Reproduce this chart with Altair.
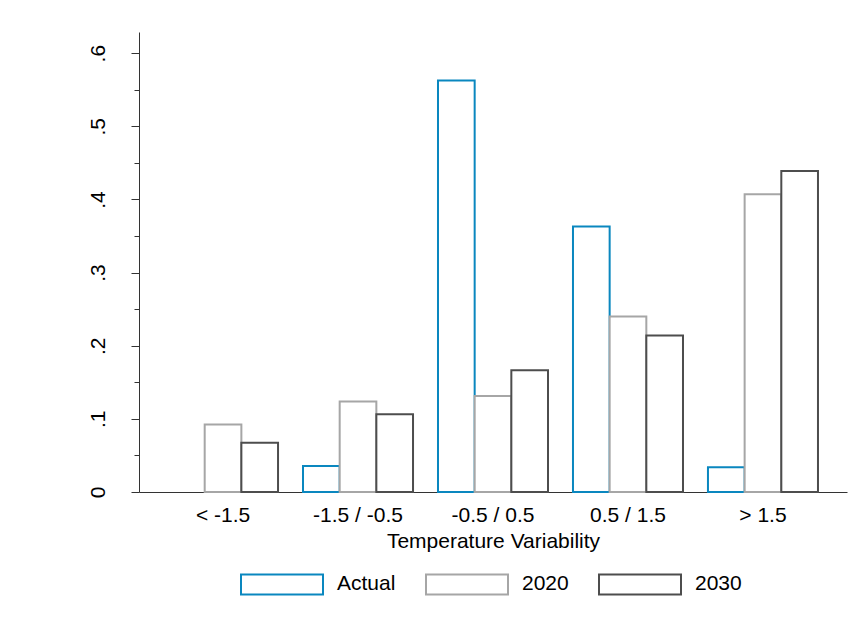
import altair as alt
import pandas as pd

CATEGORIES = ["< -1.5", "-1.5 / -0.5", "-0.5 / 0.5", "0.5 / 1.5", "> 1.5"]
SERIES = ["Actual", "2020", "2030"]
ACTUAL = [None, 0.0355, 0.5628, 0.3632, 0.0337]
Y2020 = [0.0923, 0.1237, 0.1313, 0.2400, 0.4073]
Y2030 = [0.0673, 0.1064, 0.1664, 0.2141, 0.4390]
COLORS = ["#0a87bf", "#a6a6a6", "#4d4d4d"]
Y_TICKS = [0, 0.05, 0.1, 0.15, 0.2, 0.25, 0.3, 0.35, 0.4, 0.45, 0.5, 0.55, 0.6]

rows = []
for s, vals in zip(SERIES, [ACTUAL, Y2020, Y2030]):
    for c, v in zip(CATEGORIES, vals):
        if v is not None:
            rows.append({"category": c, "series": s, "value": v})
df = pd.DataFrame(rows)

FONT = "Liberation Sans"
FS = 21
major_test = "round(datum.value * 100) % 10 == 0"

chart = alt.Chart(df).mark_bar(fill="white", strokeWidth=2).encode(
    x=alt.X(
        "category:N",
        sort=CATEGORIES,
        scale=alt.Scale(paddingInner=0.185, paddingOuter=0.215),
        axis=alt.Axis(
            title="Temperature Variability",
            ticks=False,
            labelAngle=0,
            labelPadding=12,
            labelFontSize=FS,
            labelFont=FONT,
            labelColor="#000000",
            titleFontSize=FS,
            titleFont=FONT,
            titleColor="#000000",
            titleFontWeight="normal",
            titlePadding=5,
            domainColor="#333333",
            domainWidth=1,
            grid=False,
        ),
    ),
    xOffset=alt.XOffset("series:N", sort=SERIES, scale=alt.Scale(paddingInner=0, paddingOuter=0)),
    y=alt.Y(
        "value:Q",
        scale=alt.Scale(domain=[0, 0.629], nice=False, zero=True),
        axis=alt.Axis(
            title=None,
            values=Y_TICKS,
            labelExpr=f"{major_test} ? (datum.value == 0 ? '0' : replace(format(datum.value, '.1f'), '0.', '.')) : ''",
            labelAngle=-90,
            labelAlign="center",
            labelBaseline="alphabetic",
            labelPadding=27,
            labelFontSize=FS,
            labelFont=FONT,
            labelColor="#000000",
            labelOverlap=False,
            tickSize={"condition": {"test": major_test, "value": 8}, "value": 5},
            tickColor="#333333",
            tickWidth=1,
            domainColor="#333333",
            domainWidth=1,
            grid=False,
        ),
    ),
    stroke=alt.Stroke(
        "series:N",
        sort=SERIES,
        scale=alt.Scale(domain=SERIES, range=COLORS),
        legend=alt.Legend(
            title=None,
            orient="none",
            legendX=101,
            legendY=510,
            direction="horizontal",
            symbolType="M-1,-0.244L1,-0.244L1,0.244L-1,0.244Z",
            symbolSize=6724,
            symbolStrokeWidth=2,
            symbolFillColor="white",
            labelFontSize=FS,
            labelFont=FONT,
            labelColor="#000000",
            labelOffset=13,
            columnPadding=26,
            padding=0,
        ),
    ),
).properties(
    width=708,
    height=460,
    background="white",
    autosize=alt.AutoSizeParams(type="none"),
    padding={"left": 139, "top": 32, "right": 7, "bottom": 134},
).configure_view(stroke=None)

chart.save("out.html", embed_options={"renderer": "svg", "actions": False})
